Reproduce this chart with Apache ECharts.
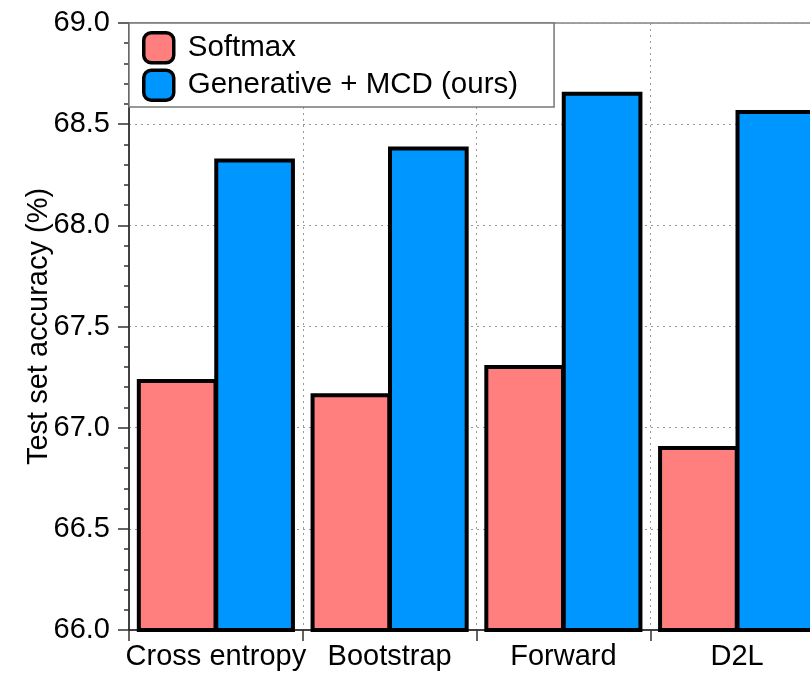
<!DOCTYPE html>
<html>
<head>
<meta charset="utf-8">
<script src="https://cdn.jsdelivr.net/npm/echarts@6/dist/echarts.min.js"></script>
<style>
  html, body { margin: 0; padding: 0; background: #fff; }
  #chart { width: 810px; height: 674px; }
</style>
</head>
<body>
<div id="chart"></div>
<script>
// Test accuracy per training loss, softmax baseline vs. generative classifier + MCD
const categories = ['Cross entropy', 'Bootstrap', 'Forward', 'D2L'];
const softmaxAcc = [67.24, 67.17, 67.31, 66.91];
const generativeAcc = [68.33, 68.39, 68.66, 68.57];
const seriesNames = ['Softmax', 'Generative + MCD (ours)'];
const yMin = 66.0, yMax = 69.0, yStep = 0.5;

const FONT = 'Liberation Sans, Arial, Helvetica, sans-serif';
const chart = echarts.init(document.getElementById('chart'));

chart.setOption({
  animation: false,
  backgroundColor: '#ffffff',
  textStyle: { fontFamily: FONT },
  grid: {
    left: 129, top: 23, width: 695, bottom: 44,
    outerBoundsMode: 'none',
    show: true, borderColor: '#444', borderWidth: 1,
    containLabel: false
  },
  legend: {
    data: seriesNames,
    orient: 'vertical',
    left: 129, top: 23,
    padding: [8, 36, 5, 13],
    itemGap: 4,
    itemWidth: 30, itemHeight: 30,
    icon: 'roundRect',
    backgroundColor: '#ffffff',
    borderColor: '#777',
    borderWidth: 1.5,
    borderRadius: 0,
    itemStyle: { borderColor: '#000', borderWidth: 3.5 },
    textStyle: { fontFamily: FONT, fontSize: 29.5, color: '#000', padding: [0, 0, 0, 9] }
  },
  xAxis: {
    type: 'category',
    data: categories,
    boundaryGap: true,
    axisLine: { show: true, lineStyle: { color: '#222', width: 1.5 } },
    axisTick: { show: true, interval: 0, inside: false, length: 11, lineStyle: { color: '#333', width: 1.5 } },
    axisLabel: { interval: 0, fontFamily: FONT, fontSize: 29, color: '#000', margin: 12 },
    splitLine: { show: true, interval: 0, lineStyle: { color: '#999', type: [2, 4], width: 1 } }
  },
  yAxis: {
    type: 'value',
    min: yMin, max: yMax, interval: yStep,
    name: 'Test set accuracy (%)',
    nameLocation: 'middle',
    nameGap: 76,
    nameMoveOverlap: false,
    nameTextStyle: { fontFamily: FONT, fontSize: 29, color: '#000' },
    axisLine: { show: true, lineStyle: { color: '#222', width: 1.5 } },
    axisTick: { show: true, inside: false, length: 11, lineStyle: { color: '#333', width: 1.5 } },
    minorTick: { show: true, splitNumber: 5, length: 5, lineStyle: { color: '#333', width: 1.5 } },
    axisLabel: {
      fontFamily: FONT, fontSize: 29, color: '#000', margin: 19,
      formatter: v => v.toFixed(1)
    },
    splitLine: { show: true, lineStyle: { color: '#999', type: [2, 4], width: 1 } }
  },
  series: [
    {
      name: seriesNames[0], type: 'bar', data: softmaxAcc,
      barGap: '-4%', barCategoryGap: '9%',
      itemStyle: { color: '#FF7F7F', borderColor: '#000', borderWidth: 4 }
    },
    {
      name: seriesNames[1], type: 'bar', data: generativeAcc,
      barGap: '-4%', barCategoryGap: '9%',
      itemStyle: { color: '#0096FF', borderColor: '#000', borderWidth: 4 }
    }
  ]
});
</script>
</body>
</html>
